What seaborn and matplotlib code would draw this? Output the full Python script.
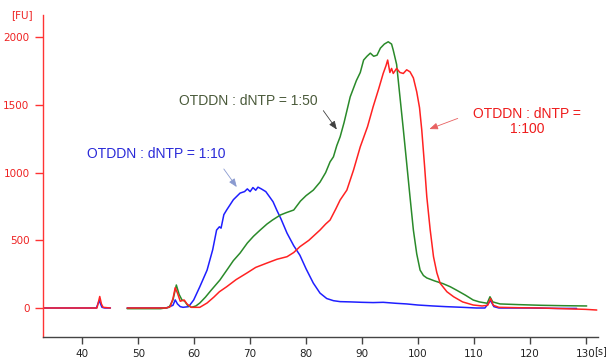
import matplotlib
matplotlib.use("Agg")
import matplotlib.pyplot as plt
import numpy as np
import pandas as pd
import seaborn as sns

# 1:10 trace (blue)
blue_t = [33, 42.5, 43, 43.5, 44, 45, np.nan, 48, 55, 56.2, 56.6, 57, 57.5, 58, 59, 59.9,
          61, 62.3, 63.3, 64, 64.5, 64.8, 65.3, 65.8, 67, 68.2, 69, 69.5, 70, 70.5, 71,
          71.4, 72, 72.8, 73.5, 74.1, 74.8, 75.5, 76.6, 77.8, 78.9, 80, 81.3, 82.5, 83.7,
          84.9, 86.1, 88, 90, 92, 93.8, 96, 98, 100, 102.7, 105, 108, 110.5, 112, 113,
          113.6, 114.5, 120, 125, 128.4]
blue_fu = [0, 0, 55, 5, 0, 0, np.nan, 0, 0, 20, 60, 30, 10, 5, 10, 59,
           157, 280, 430, 576, 600, 590, 690, 724, 800, 849, 860, 880, 860, 890, 870,
           893, 880, 860, 820, 785, 720, 660, 553, 460, 390, 290, 184, 110, 70,
           54, 47, 45, 42, 40, 42, 35, 30, 22, 15, 10, 5, 0, 0, 55,
           10, 0, 0, -3, -3]

# 1:50 trace (green)
green_t = [48, 54, 55.5, 56.2, 56.8, 57.3, 57.8, 58.3, 58.8, 59.5, 60.3, 61, 62, 63, 64.6,
           66, 67, 68.2, 69.5, 70.6, 71.8, 73, 74, 75.4, 76.5, 77.8, 79, 80, 81.3, 82.5,
           83.5, 84.3, 84.9, 85.5, 86.1, 86.8, 87.9, 89, 89.7, 90.3, 90.9, 91.5, 92.1,
           92.7, 93.3, 94, 94.7, 95.3, 95.6, 96.2, 96.8, 97.4, 98, 98.6, 99.2, 99.8,
           100.4, 101, 101.6, 103, 104.5, 105.8, 107, 108.5, 109.9, 111, 112.4, 112.9,
           113.4, 114.7, 118, 122, 126, 130.2]
green_fu = [-5, -5, 5, 60, 170, 100, 60, 50, 20, 5, 15, 37, 80, 130, 207,
            290, 350, 406, 480, 530, 576, 620, 650, 687, 705, 724, 790, 830, 871, 930,
            1000, 1080, 1117, 1200, 1265, 1370, 1560, 1680, 1740, 1832, 1860, 1883, 1860,
            1868, 1920, 1950, 1967, 1950, 1905, 1800, 1560, 1320, 1071, 820, 576, 400,
            280, 240, 222, 200, 180, 157, 130, 95, 59, 45, 35, 83,
            45, 30, 25, 20, 17, 15]

# 1:100 trace (red)
red_t = [33, 42.6, 42.9, 43.1, 43.4, 43.7, 45, np.nan, 48, 55, 55.7, 56.2, 56.6, 57, 57.5,
         58.2, 58.7, 59.5, 61, 62.3, 63.5, 64.5, 65.8, 67.5, 69.4, 71, 73, 74.8, 76.6,
         77.8, 78.9, 80.5, 82.5, 83.5, 84.3, 85.3, 86.1, 87.3, 88.5, 89.7, 91, 92, 93,
         93.8, 94.3, 94.6, 95, 95.3, 95.6, 96.2, 96.8, 97.4, 98, 98.6, 99.2, 99.8, 100.3,
         100.7, 101.2, 101.6, 102.2, 102.8, 103.4, 104, 105.2, 106.4, 108, 109.9, 111.5,
         112.5, 113, 113.5, 114.5, 118, 122, 126, 130, 132]
red_fu = [0, 0, 50, 85, 30, 5, 0, np.nan, 0, 0, 10, 70, 150, 110, 50,
          59, 30, 5, 5, 37, 80, 120, 157, 210, 258, 300, 332, 360, 379,
          410, 453, 500, 576, 620, 650, 730, 798, 871, 1020, 1191, 1340, 1487, 1620,
          1733, 1790, 1832, 1740, 1770, 1733, 1770, 1740, 1733, 1760, 1745, 1700, 1597, 1480,
          1315, 1050, 822, 580, 379, 260, 182, 120, 83, 45, 22, 15,
          20, 70, 20, 5, 2, 0, -5, -10, -15]

x_ticks = [40, 50, 60, 70, 80, 90, 100, 110, 120, 130]
y_ticks = [0, 500, 1000, 1500, 2000]

sns.set_style("white")
plt.rcParams['font.family'] = ['DejaVu Sans']

fig = plt.figure(figsize=(6.06, 3.6), dpi=100)
ax = fig.add_axes([0.0705, 0.064, 0.917, 0.894])

blue_c = "#1f1fff"
green_c = "#2a8a2a"
red_c = "#ff2222"

for t, fu, c in [(blue_t, blue_fu, blue_c), (green_t, green_fu, green_c), (red_t, red_fu, red_c)]:
    df = pd.DataFrame({"t": t, "fu": fu})
    # split on NaN gaps so the trace breaks
    grp = df["t"].isna().cumsum()
    for _, part in df.dropna().groupby(grp[df["t"].notna()]):
        sns.lineplot(data=part, x="t", y="fu", ax=ax, color=c, linewidth=1.1,
                     sort=False, estimator=None)

ax.set_xlim(32.9, 132.3)
ax.set_ylim(-214, 2164)
ax.set_xticks(x_ticks)
ax.set_yticks(y_ticks)
ax.set_xlabel("")
ax.set_ylabel("")

ax.spines["top"].set_visible(False)
ax.spines["right"].set_visible(False)
ax.spines["left"].set_color("#ff3333")
ax.spines["bottom"].set_color("#444444")
ax.spines["left"].set_linewidth(1.0)
ax.spines["bottom"].set_linewidth(1.0)
ax.tick_params(axis="y", colors="#ff3333", labelcolor="#ee2222", length=6, width=1,
               labelsize=7.5, direction="out", left=True)
ax.tick_params(axis="x", colors="#444444", labelcolor="#222222", length=5, width=1,
               labelsize=7.5, direction="out", bottom=True, pad=4)

fig.text(0.037, 0.958, "[FU]", color="#ee2222", fontsize=7.5, ha="center", va="center")
# unit after the last x tick label
fig.text(594.5 / 606, 1 - 351 / 360, "[s]", color="#222222", fontsize=7,
         ha="left", va="center")

lab = dict(fontsize=10, family="Liberation Sans", ha="center", va="center")
ax.text(53.2, 1137, "OTDDN : dNTP = 1:10", color="#2a2ad8", **lab)
ax.text(69.7, 1531, "OTDDN : dNTP = 1:50", color="#4a5a3a", **lab)
ax.text(119.6, 1381, "OTDDN : dNTP =\n1:100", color="#ee1c1c", linespacing=1.1, **lab)

arr = dict(arrowstyle="-|>,head_length=0.5,head_width=0.2", lw=0.6)
ax.annotate("", xy=(67.9, 877), xytext=(65.0, 1044),
            arrowprops=dict(color="#8a9ad0", **arr))
ax.annotate("", xy=(85.8, 1302), xytext=(82.8, 1475),
            arrowprops=dict(color="#404040", **arr))
ax.annotate("", xy=(101.6, 1315), xytext=(107.6, 1408),
            arrowprops=dict(color="#e86060", **arr))

fig.savefig("out.png", dpi=100)
